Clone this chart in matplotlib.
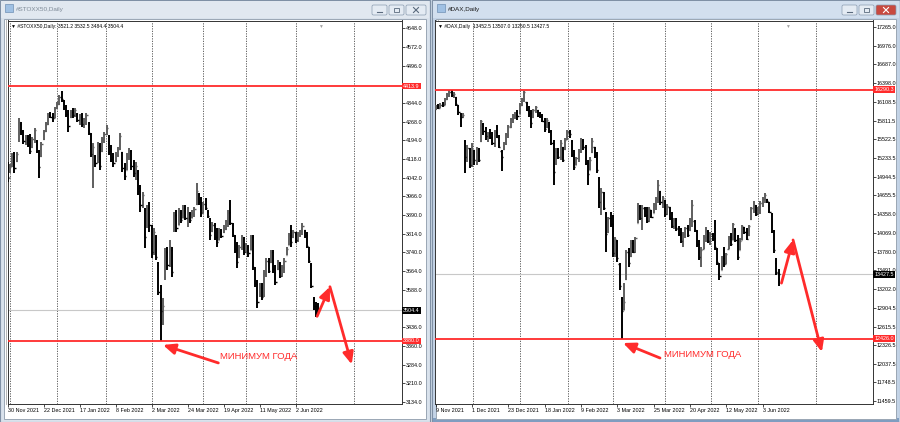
import matplotlib
matplotlib.use('Agg')
import matplotlib.pyplot as plt
from matplotlib.patches import Rectangle, FancyBboxPatch
from matplotlib.transforms import blended_transform_factory
import numpy as np

plt.rcParams['font.family'] = ['Liberation Sans', 'DejaVu Sans']

# ---------------- data: #STOXX50 Daily ----------------
stx_high = [4107, 4096, 4141, 4148, 4148, 4283, 4269, 4236, 4215, 4215,
            4218, 4209, 4242, 4195, 4155, 4188, 4236, 4269, 4303, 4310,
            4303, 4330, 4350, 4378, 4394, 4357, 4337, 4317, 4317, 4326,
            4323, 4303, 4299, 4303, 4283, 4303, 4269, 4222, 4182, 4134,
            4188, 4182, 4209, 4229, 4256, 4215, 4175, 4141, 4148, 4168,
            4222, 4148, 4100, 4141, 4161, 4155, 4114, 4107, 4073, 4013,
            3986, 3918, 3932, 3945, 3850, 3837, 3810, 3702, 3607, 3553,
            3756, 3763, 3790, 3763, 3904, 3911, 3918, 3911, 3931, 3931,
            3925, 3904, 3911, 3925, 4019, 3979, 3965, 3945, 3958, 3911,
            3877, 3864, 3857, 3837, 3837, 3833, 3850, 3871, 3911, 3952,
            3857, 3810, 3783, 3769, 3810, 3803, 3776, 3769, 3810, 3810,
            3681, 3627, 3614, 3614, 3668, 3715, 3715, 3749, 3749, 3688,
            3708, 3702, 3688, 3715, 3763, 3817, 3850, 3830, 3823, 3823,
            3830, 3857, 3830, 3823, 3763, 3695, 3560, 3539, 3532.5]
stx_low = [4026, 4060, 4087, 4060, 4107, 4188, 4215, 4177, 4175, 4168,
           4137, 4161, 4182, 4141, 4040, 4128, 4195, 4229, 4256, 4283,
           4269, 4283, 4321, 4337, 4350, 4317, 4290, 4229, 4283, 4283,
           4290, 4269, 4256, 4249, 4242, 4256, 4215, 4128, 4000, 4087,
           4100, 4073, 4148, 4182, 4215, 4134, 4107, 4087, 4107, 4128,
           4155, 4067, 4033, 4073, 4114, 4073, 4046, 4033, 3972, 3904,
           3918, 3756, 3837, 3823, 3715, 3729, 3709, 3567, 3380, 3445,
           3627, 3668, 3681, 3641, 3823, 3823, 3850, 3857, 3877, 3871,
           3844, 3857, 3877, 3884, 3931, 3931, 3884, 3898, 3911, 3877,
           3790, 3823, 3790, 3763, 3790, 3796, 3817, 3830, 3844, 3850,
           3803, 3736, 3675, 3715, 3749, 3729, 3736, 3722, 3749, 3668,
           3600, 3512, 3560, 3546, 3560, 3641, 3654, 3695, 3654, 3607,
           3668, 3634, 3641, 3654, 3729, 3769, 3763, 3796, 3776, 3783,
           3803, 3810, 3796, 3756, 3695, 3594, 3506, 3479, 3484.4]
stx_open = [4090, 4045, 4090, 4125, 4110, 4195, 4260, 4228, 4188, 4200,
            4178, 4165, 4195, 4190, 4150, 4130, 4198, 4232, 4260, 4295,
            4290, 4285, 4325, 4340, 4370, 4355, 4330, 4300, 4290, 4310,
            4295, 4300, 4275, 4290, 4260, 4265, 4265, 4220, 4150, 4130,
            4105, 4170, 4150, 4195, 4220, 4210, 4150, 4125, 4110, 4135,
            4160, 4145, 4085, 4075, 4125, 4150, 4100, 4060, 4070, 4000,
            3930, 3910, 3850, 3920, 3840, 3750, 3800, 3690, 3560, 3500,
            3640, 3740, 3690, 3750, 3830, 3890, 3850, 3900, 3880, 3920,
            3880, 3895, 3880, 3895, 3935, 3975, 3945, 3900, 3935, 3905,
            3870, 3825, 3850, 3800, 3790, 3815, 3820, 3835, 3860, 3905,
            3850, 3805, 3750, 3720, 3760, 3795, 3745, 3760, 3750, 3800,
            3670, 3610, 3565, 3595, 3565, 3650, 3700, 3700, 3740, 3660,
            3670, 3695, 3650, 3680, 3730, 3770, 3810, 3800, 3815, 3790,
            3810, 3825, 3830, 3810, 3760, 3690, 3540, 3520, 3521.2]
stx_close = [4040, 4085, 4130, 4080, 4140, 4270, 4230, 4190, 4205, 4175,
             4150, 4200, 4235, 4150, 4085, 4180, 4230, 4260, 4295, 4290,
             4285, 4325, 4340, 4370, 4360, 4325, 4300, 4250, 4310, 4295,
             4315, 4275, 4290, 4260, 4270, 4295, 4225, 4140, 4165, 4100,
             4175, 4090, 4200, 4220, 4245, 4145, 4120, 4100, 4140, 4160,
             4210, 4080, 4050, 4130, 4150, 4090, 4060, 4090, 3990, 3930,
             3970, 3800, 3920, 3850, 3740, 3820, 3720, 3580, 3500, 3520,
             3745, 3690, 3760, 3660, 3890, 3840, 3905, 3870, 3920, 3880,
             3900, 3870, 3900, 3915, 3990, 3945, 3900, 3935, 3920, 3885,
             3810, 3850, 3800, 3780, 3820, 3805, 3840, 3865, 3900, 3860,
             3810, 3745, 3700, 3760, 3800, 3740, 3765, 3735, 3800, 3680,
             3615, 3540, 3600, 3560, 3655, 3705, 3665, 3740, 3670, 3620,
             3700, 3645, 3680, 3705, 3755, 3810, 3780, 3820, 3790, 3815,
             3825, 3845, 3805, 3765, 3705, 3605, 3520, 3490, 3504.4]
stx_date_pos = [0, 16, 32, 48, 64, 80, 96, 112, 128]
stx_date_lbl = ['30 Nov 2021', '22 Dec 2021', '17 Jan 2022', '8 Feb 2022',
                '2 Mar 2022', '24 Mar 2022', '19 Apr 2022', '11 May 2022',
                '2 Jun 2022']
stx_grid = [1, 22, 43.7, 64, 86.7, 105.8, 128.1, 154]
# scale labels (4420.0 and 3512.0 are hidden under the price boxes in the reference)
stx_price_lbl = ['4648.0', '4572.0', '4496.0', '4344.0', '4268.0',
                 '4194.0', '4118.0', '4042.0', '3966.0', '3890.0', '3814.0',
                 '3740.0', '3664.0', '3588.0', '3436.0', '3360.0',
                 '3284.0', '3210.0', '3134.0']
stx_levels = [4413.9, 3380.0]
stx_last = 3504.4
stx_header = '\u25bc #STOXX50,Daily: 3521.2 3532.5 3484.4 3504.4'

# ---------------- data: #DAX Daily ----------------
dax_high = [16054, 16065, 16080, 16096, 16158, 16235, 16287, 16287, 16261, 16184,
            16054, 15925, 15925, 15511, 15434, 15382, 15460, 15356, 15408, 15382,
            15822, 15770, 15718, 15641, 15682, 15641, 15666, 15744, 15589, 15356,
            15485, 15615, 15744, 15847, 15910, 15951, 15977, 16080, 16168, 16272,
            16106, 16044, 15977, 15992, 16044, 15977, 15940, 15910, 15847, 15847,
            15796, 15666, 15511, 15382, 15382, 15511, 15408, 15537, 15666, 15666,
            15511, 15356, 15253, 15372, 15537, 15527, 15434, 15201, 15253, 15537,
            15408, 15330, 14942, 14761, 14709, 14399, 14321, 14399, 14347, 14011,
            13959, 13597, 13080, 13287, 13804, 13830, 13959, 13959, 14011, 14528,
            14502, 14502, 14477, 14466, 14477, 14425, 14539, 14632, 14890, 14725,
            14642, 14580, 14518, 14477, 14399, 14295, 14295, 14176, 14140, 14089,
            14166, 14192, 14295, 14580, 14270, 14114, 13959, 13856, 14037, 14156,
            14114, 14089, 14063, 14270, 13830, 13597, 13711, 13846, 13763, 14021,
            14063, 14228, 14140, 14037, 13985, 14192, 14166, 14140, 14192, 14477,
            14570, 14502, 14466, 14570, 14621, 14683, 14601, 14554, 14373, 14114,
            13675, 13507.0]
dax_low = [15977, 15992, 16013, 16029, 16054, 16132, 16184, 16184, 16158, 16044,
           15899, 15718, 15847, 14994, 15175, 15072, 15097, 15123, 15123, 15175,
           15485, 15589, 15511, 15485, 15527, 15434, 15408, 15537, 15382, 15030,
           15356, 15434, 15537, 15692, 15770, 15837, 15822, 15910, 16044, 16106,
           15961, 15873, 15692, 15858, 15925, 15873, 15847, 15796, 15641, 15703,
           15615, 15434, 14813, 15123, 15216, 15201, 15175, 15356, 15511, 15537,
           15253, 15046, 15123, 15165, 15304, 15356, 15123, 14813, 15046, 15304,
           15227, 14994, 14451, 14347, 14425, 13778, 14063, 14166, 13700, 13701,
           13623, 13183, 12428, 12873, 13338, 13545, 13701, 13752, 13752, 14218,
           14270, 14114, 14321, 14218, 14244, 14295, 14373, 14425, 14528, 14502,
           14451, 14321, 14347, 14270, 14140, 14125, 14104, 14021, 13907, 13856,
           13985, 14011, 14104, 14166, 14089, 13856, 13649, 13545, 13814, 13933,
           13907, 13882, 13949, 13804, 13571, 13338, 13494, 13545, 13587, 13814,
           13866, 13959, 13933, 13649, 13804, 13959, 14052, 13959, 14021, 14270,
           14373, 14332, 14347, 14363, 14466, 14528, 14528, 14373, 14063, 13752,
           13416, 13250.5]
dax_open = [16000, 16040, 16015, 16060, 16060, 16140, 16220, 16250, 16210, 16180,
            16050, 15920, 15870, 15500, 15260, 15370, 15130, 15350, 15200, 15370,
            15500, 15760, 15650, 15580, 15620, 15560, 15460, 15640, 15560, 15340,
            15370, 15460, 15600, 15720, 15830, 15880, 15900, 15920, 16060, 16150,
            16100, 15990, 15930, 15870, 15970, 15970, 15900, 15880, 15810, 15710,
            15790, 15650, 15470, 15150, 15320, 15250, 15400, 15370, 15520, 15630,
            15500, 15300, 15130, 15230, 15340, 15500, 15410, 15150, 15050, 15320,
            15400, 15280, 14920, 14560, 14690, 14380, 14080, 14300, 14200, 13760,
            13950, 13580, 13060, 12880, 13350, 13780, 13710, 13920, 13790, 14230,
            14480, 14300, 14450, 14350, 14260, 14420, 14380, 14520, 14600, 14720,
            14550, 14580, 14360, 14470, 14300, 14170, 14270, 14140, 14050, 13950,
            14060, 14150, 14110, 14280, 14260, 14100, 13900, 13700, 13820, 14000,
            14100, 13950, 14060, 13990, 13820, 13590, 13500, 13680, 13590, 13820,
            14000, 13960, 14130, 13960, 13810, 13960, 14160, 14080, 14030, 14280,
            14450, 14490, 14360, 14440, 14540, 14600, 14600, 14550, 14370, 14100,
            13600, 13452.5]
dax_close = [16040, 16010, 16060, 16050, 16140, 16220, 16260, 16210, 16230, 16070,
             15940, 15870, 15900, 15250, 15380, 15120, 15420, 15200, 15380, 15200,
             15800, 15650, 15580, 15620, 15560, 15460, 15640, 15560, 15400, 15250,
             15460, 15600, 15730, 15830, 15880, 15900, 15880, 16060, 16150, 16260,
             15980, 15920, 15770, 15970, 16020, 15900, 15880, 15810, 15680, 15820,
             15650, 15470, 15010, 15330, 15250, 15470, 15200, 15510, 15630, 15600,
             15280, 15100, 15230, 15340, 15500, 15410, 15150, 14990, 15200, 15500,
             15280, 15040, 14550, 14700, 14450, 14050, 14300, 14200, 13750, 13980,
             13680, 13250, 12850, 13000, 13780, 13600, 13920, 13780, 13990, 14480,
             14300, 14450, 14350, 14250, 14440, 14320, 14520, 14600, 14820, 14550,
             14610, 14360, 14480, 14300, 14170, 14270, 14130, 14050, 13950, 14060,
             14150, 14030, 14280, 14500, 14110, 13900, 13700, 13800, 14000, 14100,
             13950, 14060, 13980, 13850, 13620, 13400, 13680, 13580, 13740, 14000,
             13900, 14200, 13960, 13700, 13950, 14180, 14080, 13980, 14180, 14450,
             14500, 14360, 14440, 14540, 14600, 14650, 14560, 14400, 14100, 13800,
             13460, 13427.5]
dax_date_pos = [0, 16, 32, 48, 64, 80, 96, 112, 128, 144]
dax_date_lbl = ['9 Nov 2021', '1 Dec 2021', '23 Dec 2021', '18 Jan 2022',
                '9 Feb 2022', '3 Mar 2022', '25 Mar 2022', '20 Apr 2022',
                '12 May 2022', '3 Jun 2022']
dax_grid = [16.3, 37.1, 58.4, 77.9, 100.9, 121.1, 141.9, 167.6]
dax_price_lbl = ['17265.0', '16976.0', '16687.0', '16398.0', '16108.5', '15811.5',
                 '15522.5', '15233.5', '14944.5', '14655.5', '14358.0', '14069.0',
                 '13780.0', '13491.0', '13202.0', '12904.5', '12615.5', '12326.5',
                 '12037.5', '11748.5', '11459.5']
dax_levels = [16290.3, 12426.0]
dax_last = 13427.5
dax_header = '\u25bc #DAX,Daily  13452.5 13507.0 13250.5 13427.5'

note_text = 'МИНИМУМ ГОДА'
# annotation anchors (bar index, price)
stx_min_arrow = ((93.6, 3291), (69.0, 3364))
stx_up_arrow = ((137.5, 3480), (143.2, 3600))
stx_down_arrow = ((143.2, 3600), (152.9, 3285))
stx_note_pos = (94.5, 3318)
dax_min_arrow = ((98.8, 12128), (82.5, 12361))
dax_up_arrow = ((152.3, 13290), (157.4, 13960))
dax_down_arrow = ((157.4, 13960), (170.1, 12221))
dax_note_pos = (100.5, 12190)

# ---------------- figure ----------------
W, H = 900, 422
fig = plt.figure(figsize=(W / 100, H / 100), dpi=100)
fig.patch.set_facecolor('#c9d6e4')
bg = fig.add_axes([0, 0, 1, 1])
bg.set_xlim(0, W)
bg.set_ylim(H, 0)
bg.axis('off')

RED = '#ff2b2b'


def pax(x0, y0, x1, y1):
    return fig.add_axes([x0 / W, 1 - y1 / H, (x1 - x0) / W, (y1 - y0) / H])


def window(x0, x1, title, active):
    frame = '#c3d3e6' if active else '#d9e2ec'
    bg.add_patch(Rectangle((x0, 0), x1 - x0, H, fc=frame, ec='#7f90a5', lw=0.8))
    bg.add_patch(Rectangle((x0 + 1, 1), x1 - x0 - 2, 17,
                           fc='#d2dfee' if active else '#e1e8f0', ec='none'))
    if active:
        bg.add_patch(Rectangle((x0 + 1, H - 4), x1 - x0 - 2, 4, fc='#7f9dc0', ec='none'))
    bg.add_patch(Rectangle((x0 + 4, 19), x1 - x0 - 8, 400, fc='white',
                           ec='#9aa6b4', lw=0.7))
    bg.plot([x0 + 5.5, x0 + 5.5], [20, 404], color='#a8a8a8', lw=0.6)
    # icon
    bg.add_patch(Rectangle((x0 + 5, 4), 8, 8, fc='#9fc0e3', ec='#6f90b5', lw=0.5))
    bg.text(x0 + 16, 9, title, fontsize=4.6, va='center', ha='left',
            color='#1a1a1a' if active else '#7e8a97')
    # caption buttons
    bx = x1 - 58
    for i, w in enumerate([15, 15, 20]):
        fc = '#c8493f' if (active and i == 2) else '#e4ebf3'
        bg.add_patch(FancyBboxPatch((bx, 5), w, 10, boxstyle='round,pad=0,rounding_size=1.5',
                                    fc=fc, ec='#8a9bb0', lw=0.5))
        cx = bx + w / 2
        col = 'white' if (active and i == 2) else '#5a6a7d'
        if i == 0:
            bg.plot([cx - 2.5, cx + 2.5], [12, 12], color=col, lw=0.8)
        elif i == 1:
            bg.add_patch(Rectangle((cx - 2.5, 7.5), 5, 4.5, fc='none', ec=col, lw=0.6))
        else:
            bg.plot([cx - 2.5, cx + 2.5], [7.5, 12.5], color=col, lw=0.8)
            bg.plot([cx - 2.5, cx + 2.5], [12.5, 7.5], color=col, lw=0.8)
        bx += w + 2


window(0, 430, '#STOXX50,Daily', False)
window(432, 900, '#DAX,Daily', True)


def chart(box, xlim, ylim, o, h, l, c, date_pos, date_lbl, grid, price_lbl,
          levels, last, header, arrows, note_pos, marker_x):
    ax = pax(*box)
    ax.set_facecolor('white')
    o, h, l, c = map(np.asarray, (o, h, l, c))
    idx = np.arange(len(o))
    up = c >= o
    for m, col in ((up, '#5e5e5e'), (~up, '#000000')):
        ax.vlines(idx[m], l[m], h[m], color=col, lw=1.4, zorder=3)
        ax.hlines(o[m], idx[m] - 0.5, idx[m], color=col, lw=1.0, zorder=3)
        ax.hlines(c[m], idx[m], idx[m] + 0.5, color=col, lw=1.0, zorder=3)
    for g in grid:
        ax.axvline(g, color='#4a4a4a', lw=0.6, ls=(0, (1.5, 1.5)), zorder=1)
    ax.axhline(last, color='#c8c8c8', lw=0.8, zorder=2)
    for lv in levels:
        ax.axhline(lv, color=RED, lw=1.3, zorder=4)
    ax.set_xlim(*xlim)
    ax.set_ylim(*ylim)
    vals = [float(t) for t in price_lbl]
    ax.yaxis.tick_right()
    ax.set_yticks(vals)
    ax.set_yticklabels(price_lbl)
    ax.set_xticks(date_pos)
    ax.set_xticklabels(date_lbl)
    for t in ax.get_xticklabels():
        t.set_ha('left')
    ax.tick_params(axis='y', length=2, width=0.5, labelsize=3.9, pad=1.0)
    ax.tick_params(axis='x', length=2, width=0.5, labelsize=3.9, pad=1.0)
    ax.set_ylim(*ylim)
    for s in ax.spines.values():
        s.set_linewidth(0.7)
        s.set_color('#333333')
    tr = blended_transform_factory(ax.transAxes, ax.transData)
    for lv in levels:
        ax.text(1.004, lv, f'{lv:.1f}', transform=tr, fontsize=3.9, color='white',
                va='center', ha='left', zorder=10, clip_on=False,
                bbox=dict(boxstyle='square,pad=0.18', fc=RED, ec='none'))
    ax.text(1.004, last, f'{last:.1f}', transform=tr, fontsize=3.9, color='white',
            va='center', ha='left', zorder=10, clip_on=False,
            bbox=dict(boxstyle='square,pad=0.18', fc='black', ec='none'))
    ax.text(0.008, 0.992, header, transform=ax.transAxes, fontsize=3.6,
            va='top', ha='left', color='black', zorder=6)
    ax.text(marker_x, 0.985, '\u25bc', transform=ax.transAxes, fontsize=3.5,
            va='center', ha='center', color='#a0a0a0', zorder=6)
    for start, tip in arrows:
        ax.annotate('', xy=tip, xytext=start, zorder=8,
                    arrowprops=dict(arrowstyle='-|>,head_length=0.8,head_width=0.35',
                                    color=RED, lw=2.0, mutation_scale=9,
                                    shrinkA=0, shrinkB=0))
    ax.text(note_pos[0], note_pos[1], note_text, fontsize=6.8, color=RED,
            va='center', ha='left', zorder=8)
    return ax


chart((7.5, 20.5, 401.7, 404), (-0.1, 175.1), (3124.5, 4679.6),
      stx_open, stx_high, stx_low, stx_close, stx_date_pos, stx_date_lbl,
      stx_grid, stx_price_lbl, stx_levels, stx_last, stx_header,
      [stx_min_arrow, stx_up_arrow, stx_down_arrow], stx_note_pos, 0.795)

chart((434.5, 20.5, 872.5, 404), (-0.53, 192.4), (11414, 17366),
      dax_open, dax_high, dax_low, dax_close, dax_date_pos, dax_date_lbl,
      dax_grid, dax_price_lbl, dax_levels, dax_last, dax_header,
      [dax_min_arrow, dax_up_arrow, dax_down_arrow], dax_note_pos, 0.805)

fig.savefig('out.png', dpi=100, facecolor=fig.get_facecolor())
